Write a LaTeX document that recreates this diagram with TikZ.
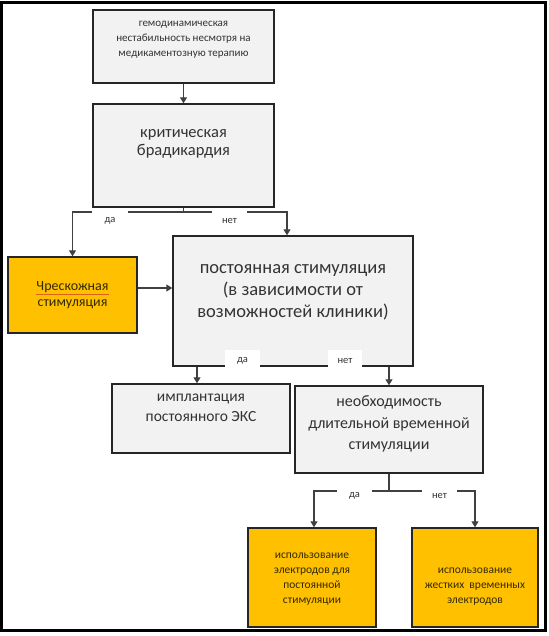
\documentclass[tikz,border=0pt]{standalone}
\usepackage{fontspec}
\setmainfont{Carlito}
\usetikzlibrary{arrows.meta,calc}
\definecolor{boxgray}{HTML}{F2F2F2}
\definecolor{edgec}{HTML}{262626}
\definecolor{orng}{HTML}{FFC000}
\definecolor{txtc}{HTML}{333333}
\definecolor{otxt}{HTML}{332A00}
\definecolor{connc}{HTML}{404040}
\definecolor{spell}{HTML}{E0601A}
\begin{document}
\begin{tikzpicture}[x=1pt,y=-1pt,
 graybox/.style={draw=edgec, line width=1.4pt, fill=boxgray, inner sep=0pt},
 orbox/.style={draw=edgec, line width=1.4pt, fill=orng, inner sep=0pt},
 gtxt/.style={align=center, text=txtc, inner sep=0pt},
 otext/.style={align=center, text=otxt, inner sep=0pt},
 conn/.style={draw=connc, line width=1.2pt},
 arr/.style={conn, -{Triangle[width=7pt,length=6pt]}},
 lab/.style={fill=white, inner sep=0pt, font=\fontsize{10.5}{12}\selectfont, text=txtc},
]
\useasboundingbox (0,0) rectangle (548,636);
\fill[white] (0,0) rectangle (548,636);

% boxes
\node[graybox, minimum width=181pt, minimum height=73pt] (b1) at (183.5,46.5) {};
\node[graybox, minimum width=181pt, minimum height=103pt] (b2) at (183.5,155.5) {};
\node[orbox, minimum width=129pt, minimum height=76pt] (b3) at (72.5,295) {};
\node[graybox, minimum width=240pt, minimum height=130pt] (b4) at (293,301) {};
\node[graybox, minimum width=178pt, minimum height=69pt] (b5) at (201,418.5) {};
\node[graybox, minimum width=188pt, minimum height=87pt] (b6) at (389,429.5) {};
\node[orbox, minimum width=128pt, minimum height=99pt] (b7) at (312,577.5) {};
\node[orbox, minimum width=126pt, minimum height=99pt] (b8) at (475,577.5) {};

% texts
\node[gtxt, font=\fontsize{11}{15}\selectfont] (t1) at (183.5,40) {гемодинамическая\\нестабильность несмотря на\\медикаментозную терапию};
\node[gtxt, font=\fontsize{16.5}{18.5}\selectfont] (t2) at (183.5,144) {критическая\\брадикардия};
\node[otext, font=\fontsize{14}{16.5}\selectfont] (t3) at (72.5,295) {{\color{spell}\underline{\color{otxt}Чрескожная}}\\стимуляция};
\node[gtxt, font=\fontsize{18.5}{22}\selectfont] (t4) at (293,292) {постоянная стимуляция\\(в зависимости от\\возможностей клиники)};
\node[gtxt, font=\fontsize{15.5}{20}\selectfont] (t5) at (201,408) {имплантация\\постоянного ЭКС};
\node[gtxt, font=\fontsize{16}{21.5}\selectfont] (t6) at (389,424) {необходимость\\длительной временной\\стимуляции};
\node[otext, font=\fontsize{11.5}{15}\selectfont] (t7) at (312,579.5) {использование\\электродов для\\постоянной\\стимуляции};
\node[otext, font=\fontsize{11.5}{15}\selectfont] (t8) at (475,587) {использование\\жестких\ \ временных\\электродов};

% connectors
\coordinate (j1) at (183.5,212);
\coordinate (j2) at (389,491);
\draw[arr] (b1.south) -- (b2.north);
\draw[conn] (b2.south) -- (j1);
\draw[arr] (j1) -| (b3.north);
\draw[arr] (j1) -| ([xshift=-6pt]b4.north);
\draw[arr] ([yshift=7pt]b3.east) -- ([yshift=7pt]b3.east -| b4.west);
\draw[arr] ([xshift=-4pt]b5.north |- b4.south) -- ([xshift=-4pt]b5.north);
\draw[arr] (b4.south -| b6.north) -- (b6.north);
\draw[conn] (b6.south) -- (j2);
\draw[arr] (j2) -| ([xshift=2pt]b7.north);
\draw[arr] (j2) -| (b8.north);

% labels
\node[lab, minimum width=36pt, minimum height=24pt] (l1) at (110,221) {да};
\node[lab, minimum width=35pt, minimum height=24pt] (l2) at (229.5,221) {нет};
\node[lab, minimum width=35pt, minimum height=22pt] (l3) at (242.5,361) {да};
\node[lab, minimum width=34pt, minimum height=22pt] (l4) at (345,361) {нет};
\node[lab, minimum width=35pt, minimum height=26pt] (l5) at (354.5,496) {да};
\node[lab, minimum width=35pt, minimum height=26pt] (l6) at (439.5,496) {нет};

% frame
\draw[line width=3pt] (1.5,3) rectangle (545.5,630);
\end{tikzpicture}
\end{document}
